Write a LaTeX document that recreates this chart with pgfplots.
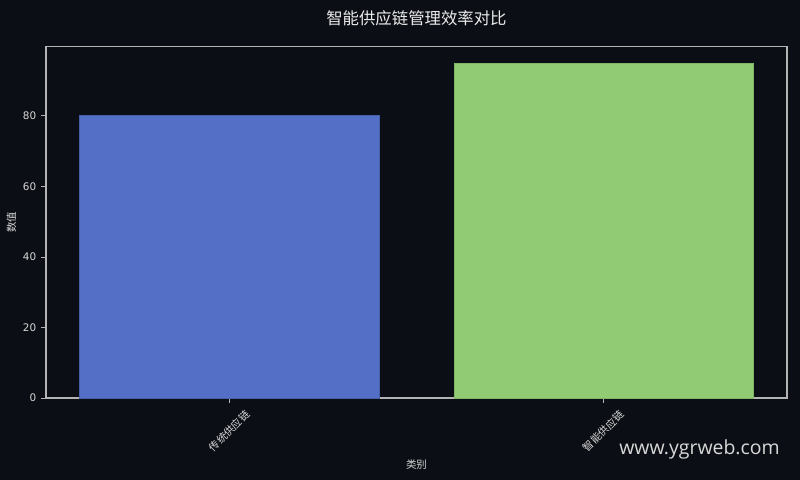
\documentclass[border=0pt]{standalone}
\usepackage{fontspec}
\usepackage{graphicx}
\usepackage{pgfplots}
\pgfplotsset{compat=1.18}
\setmainfont{DejaVu Sans}
\newfontfamily\cjk{Noto Sans CJK SC}
\newfontfamily\wmfont{Open Sans}

\definecolor{bg}{HTML}{0B0E14}
\definecolor{spine}{HTML}{B4B4B4}
\definecolor{txt}{HTML}{D8D8D8}
\definecolor{barblue}{HTML}{5470C6}
\definecolor{bargreen}{HTML}{91CC75}

\begin{document}
\begin{tikzpicture}[x=1pt,y=1pt]
  \fill[bg] (0,0) rectangle (576,345.6);
  \begin{axis}[
    at={(33.1pt,59pt)}, anchor=south west,
    scale only axis,
    width=533.5pt, height=253.4pt,
    xmin=-0.49, xmax=1.49,
    ymin=0, ymax=99.75,
    xtick={0,1},
    xticklabels={\rotatebox{45}{\cjk 传统供应链}, \rotatebox{45}{\cjk 智能供应链}},
    ytick={0,20,40,60,80},
    /pgf/number format/assume math mode=true,
    tick align=outside,
    tick pos=left,
    major tick length=3.5pt,
    tick style={spine, line width=0.6pt},
    axis line style={spine, line width=0.8pt},
    ticklabel style={font=\fontsize{7.5}{9}\selectfont, text=txt},
    xticklabel style={anchor=north, yshift=-1pt},
    xlabel={\cjk 类别},
    ylabel={\cjk 数值},
    label style={font=\fontsize{7.5}{9}\selectfont, text=txt},
    xlabel style={yshift=2pt},
    ylabel style={yshift=-2pt},
    title={\cjk 智能供应链管理效率对比},
    title style={font=\fontsize{11.8}{14}\selectfont, text=white!92!black, yshift=5pt},
    ybar, bar width=0.8, bar shift=0pt,
  ]
  \addplot[fill=barblue, draw=barblue!85!black, line width=0.5pt] coordinates {(0,80)};
  \addplot[fill=bargreen, draw=bargreen!88!black, line width=0.5pt] coordinates {(1,95)};
  \end{axis}
  \node[anchor=east, inner sep=0pt, text=txt, font=\wmfont\fontsize{14}{16}\selectfont] at (561.6,22.3) {www.ygrweb.com};
  \pgfresetboundingbox
  \path (0,0) rectangle (576,345.6);
\end{tikzpicture}
\end{document}
